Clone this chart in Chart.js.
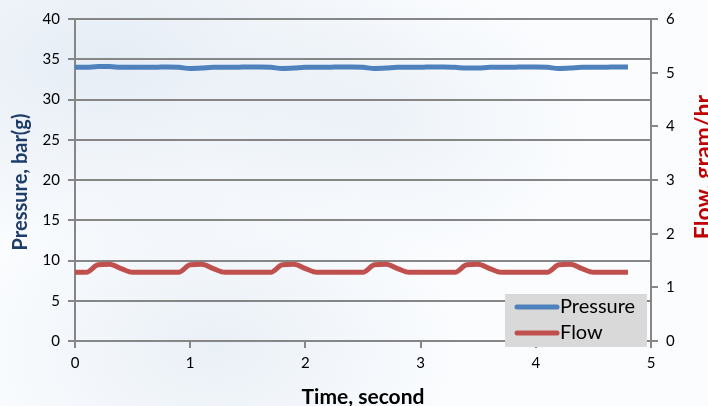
<!DOCTYPE html>
<html>
<head>
<meta charset="utf-8">
<script src="https://cdn.jsdelivr.net/npm/chart.js@4/dist/chart.umd.min.js"></script>
<style>
  html, body { margin: 0; padding: 0; }
  body {
    width: 708px; height: 406px; overflow: hidden;
    background:
      radial-gradient(ellipse at 15% 15%, rgba(205,218,234,0.45), rgba(255,255,255,0) 40%),
      radial-gradient(ellipse at 55% 30%, rgba(215,226,238,0.35), rgba(255,255,255,0) 35%),
      radial-gradient(ellipse at 30% 85%, rgba(210,222,236,0.4), rgba(255,255,255,0) 35%),
      #fafcfe;
  }
  #wrap { width: 708px; height: 406px; position: relative; }
</style>
</head>
<body>
<div id="wrap"><canvas id="chart"></canvas></div>
<script>
// time axis, seconds
const times = [0.0, 0.1, 0.2, 0.3, 0.4, 0.5, 0.6, 0.7, 0.8, 0.9,
  1.0, 1.1, 1.2, 1.3, 1.4, 1.5, 1.6, 1.7, 1.8, 1.9,
  2.0, 2.1, 2.2, 2.3, 2.4, 2.5, 2.6, 2.7, 2.8, 2.9,
  3.0, 3.1, 3.2, 3.3, 3.4, 3.5, 3.6, 3.7, 3.8, 3.9,
  4.0, 4.1, 4.2, 4.3, 4.4, 4.5, 4.6, 4.7, 4.8];

// Pressure, bar(g)
const pressure = [34.0, 34.0, 34.1, 34.1, 34.0, 34.0, 34.0, 34.0, 34.05, 34.0,
  33.85, 33.9, 34.0, 34.0, 34.0, 34.05, 34.05, 34.0, 33.85, 33.9,
  34.0, 34.0, 34.0, 34.05, 34.05, 34.0, 33.85, 33.9, 34.0, 34.0,
  34.0, 34.05, 34.05, 34.0, 33.9, 33.9, 34.0, 34.0, 34.0, 34.05,
  34.05, 34.0, 33.85, 33.9, 34.0, 34.0, 34.0, 34.05, 34.05];

// Flow, gram/hr
const flow = [1.28, 1.28, 1.42, 1.43, 1.35, 1.28, 1.28, 1.28, 1.28, 1.28,
  1.42, 1.43, 1.35, 1.28, 1.28, 1.28, 1.28, 1.28, 1.42, 1.43,
  1.35, 1.28, 1.28, 1.28, 1.28, 1.28, 1.42, 1.43, 1.35, 1.28,
  1.28, 1.28, 1.28, 1.28, 1.42, 1.43, 1.35, 1.28, 1.28, 1.28,
  1.28, 1.28, 1.42, 1.43, 1.35, 1.28, 1.28, 1.28, 1.28];

const seriesNames = ["Pressure", "Flow"];
const seriesColors = ["#4f81bd", "#c0504d"];
const gridGray = "#868686";
const fontFamily = "Lato, 'Open Sans', sans-serif";

// legend box in the lower right + the three axis titles
const extrasPlugin = {
  id: "extras",
  afterDraw(chart) {
    const ctx = chart.ctx;
    const area = chart.chartArea;
    ctx.save();
    // legend
    const lx = area.right - 146, ly = area.bottom - 47;
    ctx.fillStyle = "#d9d9d9";
    ctx.fillRect(lx, ly, 142, 53);
    ctx.font = "20px " + fontFamily;
    ctx.textBaseline = "middle";
    seriesNames.forEach((name, i) => {
      const y = ly + 13 + i * 26;
      ctx.strokeStyle = seriesColors[i];
      ctx.lineWidth = 5;
      ctx.lineCap = "round";
      ctx.beginPath();
      ctx.moveTo(lx + 12, y);
      ctx.lineTo(lx + 52, y);
      ctx.stroke();
      ctx.fillStyle = "#000";
      ctx.fillText(name, lx + 55, y);
    });
    ctx.restore();

    // x title
    ctx.save();
    ctx.font = "bold 21px " + fontFamily;
    ctx.fillStyle = "#000";
    ctx.textAlign = "center";
    ctx.textBaseline = "top";
    ctx.fillText("Time, second", (area.left + area.right) / 2, 387);
    ctx.restore();

    // left title
    ctx.save();
    ctx.translate(11, 182);
    ctx.rotate(-Math.PI / 2);
    ctx.font = "bold 20px " + fontFamily;
    ctx.fillStyle = "#1f3d6b";
    ctx.textAlign = "center";
    ctx.textBaseline = "top";
    ctx.fillText("Pressure, bar(g)", 0, 0);
    ctx.restore();

    // right title (reads bottom-to-top, clipped at the edge)
    ctx.save();
    ctx.translate(692, 167);
    ctx.rotate(-Math.PI / 2);
    ctx.font = "bold 23px " + fontFamily;
    ctx.fillStyle = "#c00000";
    ctx.textAlign = "center";
    ctx.textBaseline = "top";
    ctx.fillText("Flow, gram/hr", 0, 0);
    ctx.restore();
  }
};

const ctx = document.getElementById("chart").getContext("2d");
new Chart(ctx, {
  type: "line",
  data: {
    datasets: [{
      label: seriesNames[0],
      data: times.map((t, i) => ({ x: t, y: pressure[i] })),
      borderColor: seriesColors[0],
      borderWidth: 5,
      pointRadius: 0,
      cubicInterpolationMode: "monotone",
      yAxisID: "y"
    }, {
      label: seriesNames[1],
      data: times.map((t, i) => ({ x: t, y: flow[i] })),
      borderColor: seriesColors[1],
      borderWidth: 5,
      pointRadius: 0,
      cubicInterpolationMode: "monotone",
      yAxisID: "y1"
    }]
  },
  options: {
    responsive: true,
    maintainAspectRatio: false,
    animation: false,
    layout: { padding: { top: 19, right: 0, bottom: 0, left: 0 } },
    plugins: { legend: { display: false }, tooltip: { enabled: false } },
    scales: {
      x: {
        type: "linear",
        min: 0, max: 5,
        ticks: { stepSize: 1, color: "#000", font: { size: 15, family: fontFamily }, padding: 6 },
        grid: { drawOnChartArea: false, drawTicks: true, tickLength: 7, color: gridGray, lineWidth: 2 },
        border: { color: gridGray, width: 2 },
        afterFit(scale) { scale.height = 65; }
      },
      y: {
        position: "left",
        min: 0, max: 40,
        ticks: { stepSize: 5, color: "#000", font: { size: 15, family: fontFamily }, padding: 8 },
        grid: { color: gridGray, lineWidth: 2, tickLength: 7 },
        border: { color: gridGray, width: 2 },
        afterFit(scale) { scale.width = 75; }
      },
      y1: {
        position: "right",
        min: 0, max: 6,
        ticks: { stepSize: 1, color: "#000", font: { size: 15, family: fontFamily }, padding: 8 },
        grid: { drawOnChartArea: false, color: gridGray, lineWidth: 2, tickLength: 7 },
        border: { color: gridGray, width: 2 },
        afterFit(scale) { scale.width = 57; }
      }
    }
  },
  plugins: [extrasPlugin]
});
</script>
</body>
</html>
